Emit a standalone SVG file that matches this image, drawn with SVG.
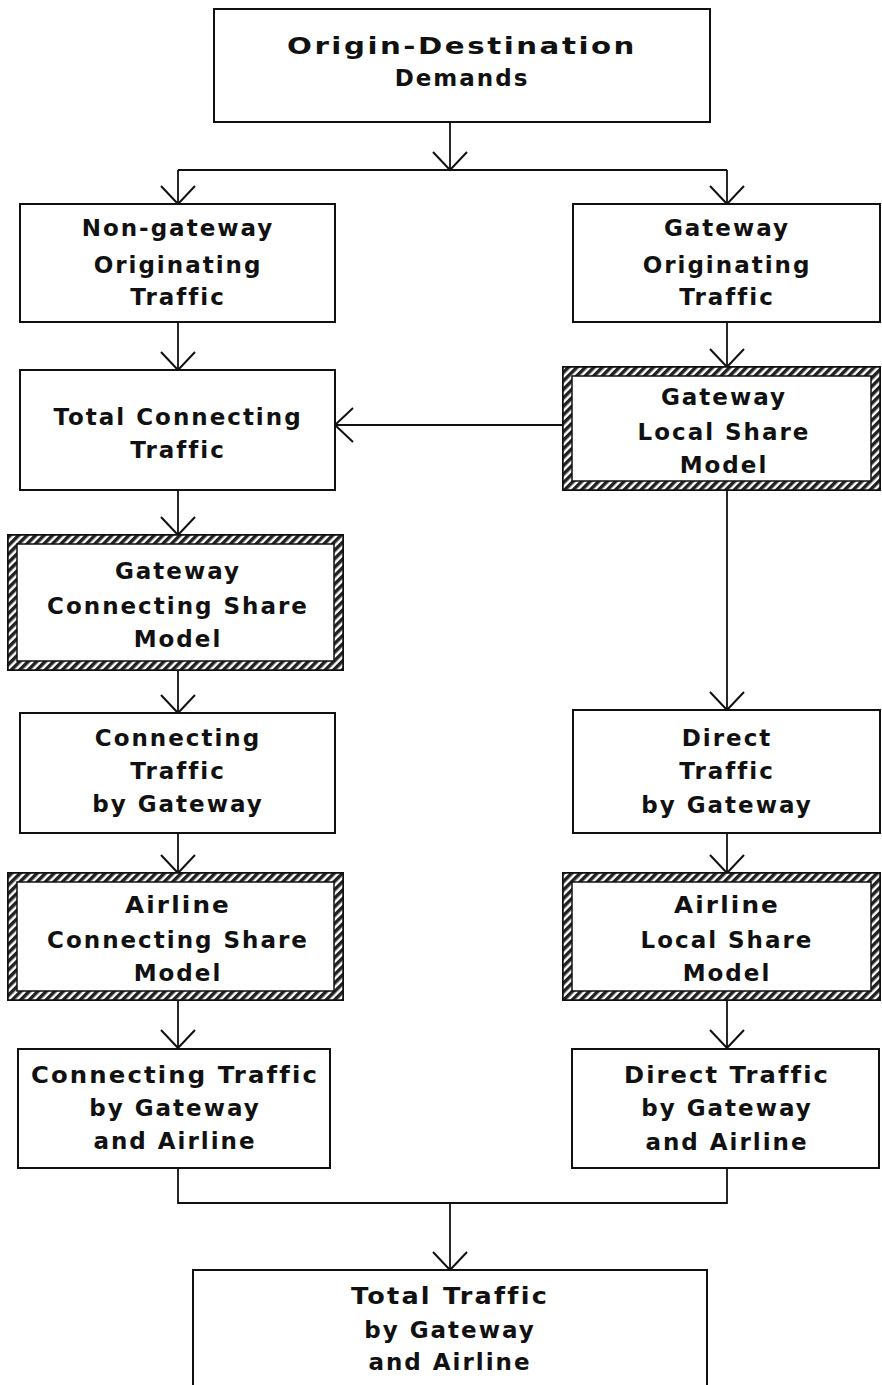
<svg xmlns="http://www.w3.org/2000/svg" width="882" height="1385" viewBox="0 0 882 1385">
<defs>
<style>
.box{fill:#fff;stroke:#111;stroke-width:2}
.hb{fill:none;stroke:url(#hatch);stroke-width:9}
.hl{fill:none;stroke:#111;stroke-width:1.5}
.c{fill:none;stroke:#111;stroke-width:1.8}
text{font-family:"DejaVu Sans","Liberation Sans",sans-serif;font-weight:bold;font-size:23px;fill:#111;text-anchor:middle;letter-spacing:2px}
</style>
<pattern id="hatch" width="6" height="6" patternUnits="userSpaceOnUse" patternTransform="rotate(45)">
<rect width="6" height="6" fill="#fff"/>
<rect width="3.5" height="6" fill="#222"/>
</pattern>
<marker id="arr" markerUnits="userSpaceOnUse" markerWidth="40" markerHeight="40" viewBox="-20 -20 40 40" refX="0" refY="0" orient="auto">
<path d="M-18,-17 L0,0 L-18,17" fill="none" stroke="#111" stroke-width="2"/>
</marker>
</defs>
<rect width="882" height="1385" fill="#fff"/>
<g id="connectors">
<path class="c" d="M450,122 V170" marker-end="url(#arr)"/>
<path class="c" d="M178,170 H727"/>
<path class="c" d="M178,170 V204" marker-end="url(#arr)"/>
<path class="c" d="M727,170 V204" marker-end="url(#arr)"/>
<path class="c" d="M178,322 V370" marker-end="url(#arr)"/>
<path class="c" d="M727,322 V367" marker-end="url(#arr)"/>
<path class="c" d="M563,425 H335" marker-end="url(#arr)"/>
<path class="c" d="M178,490 V535" marker-end="url(#arr)"/>
<path class="c" d="M178,670 V713" marker-end="url(#arr)"/>
<path class="c" d="M727,490 V710" marker-end="url(#arr)"/>
<path class="c" d="M178,833 V873" marker-end="url(#arr)"/>
<path class="c" d="M727,833 V873" marker-end="url(#arr)"/>
<path class="c" d="M178,1000 V1048" marker-end="url(#arr)"/>
<path class="c" d="M727,1000 V1048" marker-end="url(#arr)"/>
<path class="c" d="M178,1168 V1203 H727 V1168"/>
<path class="c" d="M450,1203 V1270" marker-end="url(#arr)"/>
</g>
<g id="n-od">
<rect class="box" x="214" y="9" width="496" height="113"/>
<text x="462" y="54" textLength="350" lengthAdjust="spacingAndGlyphs">Origin-Destination</text>
<text x="462" y="86">Demands</text>
</g>
<g id="n-nongw">
<rect class="box" x="20" y="204" width="315" height="118"/>
<text x="178" y="236">Non-gateway</text>
<text x="178" y="273">Originating</text>
<text x="178" y="305">Traffic</text>
</g>
<g id="n-gw">
<rect class="box" x="573" y="204" width="307" height="118"/>
<text x="727" y="236">Gateway</text>
<text x="727" y="273">Originating</text>
<text x="727" y="305">Traffic</text>
</g>
<g id="n-totconn">
<rect class="box" x="20" y="370" width="315" height="120"/>
<text x="178" y="425">Total Connecting</text>
<text x="178" y="458">Traffic</text>
</g>
<g id="n-gwlocal">
<rect class="box" x="563" y="367" width="317" height="123"/>
<rect class="hb" x="567.5" y="371.5" width="308" height="114"/>
<rect class="hl" x="563" y="367" width="317" height="123"/>
<rect class="hl" x="572" y="376" width="299" height="105"/>
<text x="724" y="405">Gateway</text>
<text x="724" y="440">Local Share</text>
<text x="724" y="473">Model</text>
</g>
<g id="n-gwconnshare">
<rect class="box" x="8" y="535" width="335" height="135"/>
<rect class="hb" x="12.5" y="539.5" width="326" height="126"/>
<rect class="hl" x="8" y="535" width="335" height="135"/>
<rect class="hl" x="17" y="544" width="317" height="117"/>
<text x="178" y="579">Gateway</text>
<text x="178" y="614">Connecting Share</text>
<text x="178" y="647">Model</text>
</g>
<g id="n-connbygw">
<rect class="box" x="20" y="713" width="315" height="120"/>
<text x="178" y="746">Connecting</text>
<text x="178" y="779">Traffic</text>
<text x="178" y="812">by Gateway</text>
</g>
<g id="n-directbygw">
<rect class="box" x="573" y="710" width="307" height="123"/>
<text x="727" y="746">Direct</text>
<text x="727" y="779">Traffic</text>
<text x="727" y="813">by Gateway</text>
</g>
<g id="n-airconnshare">
<rect class="box" x="8" y="873" width="335" height="127"/>
<rect class="hb" x="12.5" y="877.5" width="326" height="118"/>
<rect class="hl" x="8" y="873" width="335" height="127"/>
<rect class="hl" x="17" y="882" width="317" height="109"/>
<text x="178" y="913" textLength="106" lengthAdjust="spacingAndGlyphs">Airline</text>
<text x="178" y="948">Connecting Share</text>
<text x="178" y="981">Model</text>
</g>
<g id="n-airlocalshare">
<rect class="box" x="563" y="873" width="317" height="127"/>
<rect class="hb" x="567.5" y="877.5" width="308" height="118"/>
<rect class="hl" x="563" y="873" width="317" height="127"/>
<rect class="hl" x="572" y="882" width="299" height="109"/>
<text x="727" y="913" textLength="106" lengthAdjust="spacingAndGlyphs">Airline</text>
<text x="727" y="948">Local Share</text>
<text x="727" y="981">Model</text>
</g>
<g id="n-connbygwair">
<rect class="box" x="18" y="1049" width="312" height="119"/>
<text x="175" y="1083" textLength="288" lengthAdjust="spacingAndGlyphs">Connecting Traffic</text>
<text x="175" y="1116">by Gateway</text>
<text x="175" y="1149">and Airline</text>
</g>
<g id="n-directbygwair">
<rect class="box" x="572" y="1049" width="307" height="119"/>
<text x="727" y="1083" textLength="206" lengthAdjust="spacingAndGlyphs">Direct Traffic</text>
<text x="727" y="1116">by Gateway</text>
<text x="727" y="1150">and Airline</text>
</g>
<g id="n-total">
<rect class="box" x="193" y="1270" width="514" height="130"/>
<text x="450" y="1304" textLength="198" lengthAdjust="spacingAndGlyphs">Total Traffic</text>
<text x="450" y="1338">by Gateway</text>
<text x="450" y="1370">and Airline</text>
</g>
</svg>
